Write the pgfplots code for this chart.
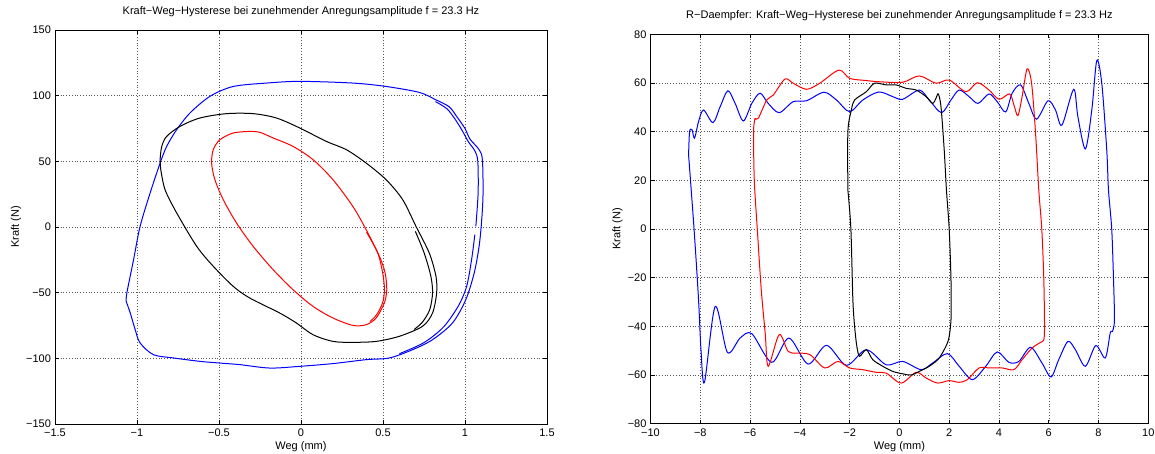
\documentclass[border=0pt]{standalone}
\usepackage{fontspec}
\setmainfont{Liberation Sans}
\usepackage{pgfplots}
\pgfplotsset{compat=1.18}

\pgfplotsset{
  mstyle/.style={
    scale only axis,
    anchor=south west,
    axis line style={line width=0.9pt},
    tick align=inside,
    major tick length=4pt,
    tick style={black, line width=0.6pt},
    grid=major,
    major grid style={black!65, line width=0.5pt, dash pattern=on 0.6pt off 2.2pt},
    tick label style={font=\fontsize{11}{13}\selectfont},
    xticklabel style={yshift=-1.2pt},
    yticklabel style={xshift=-0.5pt},
    label style={font=\fontsize{11}{13}\selectfont},
    title style={font=\fontsize{11}{13}\selectfont, at={(axis description cs:0.5,1)}, anchor=center, yshift=12.5pt},
    xlabel style={at={(axis description cs:0.5,0)}, anchor=center, yshift=-23pt},
    ylabel style={at={(axis description cs:0,0.5)}, anchor=center},
    every axis plot/.append style={line width=1pt, smooth, tension=0.5},
  }
}

\begin{document}
\begin{tikzpicture}
\useasboundingbox (0,0) rectangle (1155pt,453pt);

% links: Kraft-Weg-Hysterese
\begin{axis}[
  mstyle,
  at={(55pt,29pt)}, width=492pt, height=394pt,
  xmin=-1.5, xmax=1.5, ymin=-150, ymax=150,
  xtick={-1.5,-1,-0.5,0,0.5,1,1.5},
  xticklabels={−1.5,−1,−0.5,0,0.5,1,1.5},
  ytick={-150,-100,-50,0,50,100,150},
  yticklabels={−150,−100,−50,0,50,100,150},
  ylabel style={yshift=39pt},
  title={Kraft−Weg−Hysterese bei zunehmender Anregungsamplitude f = 23.3 Hz},
  xlabel={Weg (mm)}, ylabel={Kraft (N)},
]
\addplot[blue] coordinates {
(-1.066,-56.6) (-1.041,-65.5) (-1.011,-78.2) (-0.981,-88.3) (-0.9,-97.2)
(-0.778,-99.7) (-0.616,-102.3) (-0.494,-103.6) (-0.373,-104.8) (-0.19,-107.4)
(-0.008,-106.1) (0.195,-104) (0.397,-101) (0.539,-99.7) (0.681,-93.4)
(0.802,-85.8) (0.924,-73) (1.005,-55.3) (1.056,-35) (1.086,-14.7)
(1.102,5.6) (1.11,25.9) (1.106,51.3) (1.086,58.9) (1.03,67) (1.0,75)
(0.95,84) (0.904,91.5) (0.82,97) (0.721,102.5) (0.519,107) (0.316,109.6)
(-0.008,110.9) (-0.21,109.6) (-0.413,107) (-0.555,99.5) (-0.677,86.8)
(-0.758,74.1) (-0.819,61.4) (-0.859,48.7) (-0.92,25.9) (-0.981,0.5)
(-1.021,-24.9) (-1.062,-50.3) (-1.066,-56.6)
};
\addplot[blue] coordinates {
(0.6,-96.5) (0.75,-88) (0.87,-76) (0.96,-60) (1.01,-45.2) (1.04,-25) (1.06,-5.8)
};
\addplot[blue] coordinates {
(1.066,0.5) (1.08,25.9) (1.078,50) (1.06,58) (1.02,65) (0.985,73) (0.94,82) (0.89,90) (0.82,95.5)
};
\addplot[black] coordinates {
(-0.855,43.7) (-0.859,51.3) (-0.849,61.4) (-0.819,69) (-0.738,76.6)
(-0.616,83) (-0.454,86.3) (-0.292,86.3) (-0.15,83) (-0.008,75.4)
(0.154,65.2) (0.276,58.9) (0.397,48.7) (0.519,36) (0.62,20.8)
(0.701,0.5) (0.782,-19.8) (0.823,-37.6) (0.827,-50.3) (0.802,-65.5)
(0.741,-75.6) (0.6,-83.2) (0.458,-87.1) (0.316,-87.8) (0.195,-87.1)
(0.073,-82) (-0.028,-73.1) (-0.13,-65.5) (-0.312,-54.1) (-0.413,-45.2)
(-0.535,-29.9) (-0.636,-14.7) (-0.758,10.7) (-0.829,28.4) (-0.855,43.7)
};
\addplot[black] coordinates {
(0.697,-3.3) (0.751,-19.8) (0.792,-37.6) (0.802,-50.3) (0.785,-62.9) (0.74,-72.5) (0.69,-78)
};
\addplot[red] coordinates {
(-0.312,72.8) (-0.413,71.6) (-0.494,66.5) (-0.535,58.9) (-0.545,48.7)
(-0.525,36) (-0.474,20.8) (-0.393,3) (-0.292,-14.7) (-0.17,-32.5)
(-0.049,-47.7) (0.073,-60.4) (0.195,-69.3) (0.316,-74.9) (0.397,-74.4)
(0.458,-69.3) (0.508,-57.9) (0.523,-47.7) (0.513,-35) (0.478,-22.3)
(0.397,-2) (0.316,15.7) (0.195,36) (0.073,51.3) (-0.049,61.4)
(-0.17,67.8) (-0.251,72.1) (-0.312,72.8)
};
\addplot[red] coordinates {
(0.40,-4) (0.468,-19.8) (0.498,-35) (0.509,-47.7) (0.497,-57.9) (0.46,-67) (0.42,-72)
};
\end{axis}

% rechts: R-Daempfer
\begin{axis}[
  mstyle,
  at={(650.5pt,29.3pt)}, width=497.8pt, height=389.4pt,
  xmin=-10, xmax=10, ymin=-80, ymax=80,
  xtick={-10,-8,...,10},
  xticklabels={−10,−8,−6,−4,−2,0,2,4,6,8,10},
  ytick={-80,-60,...,80},
  yticklabels={−80,−60,−40,−20,0,20,40,60,80},
  ylabel style={yshift=33pt},
  title={R−Daempfer: Kraft−Weg−Hysterese bei zunehmender Anregungsamplitude f = 23.3 Hz},
  xlabel={Weg (mm)}, ylabel={Kraft (N)},
]
\addplot[blue] coordinates {
(-8.47,30.4) (-8.43,40) (-8.33,40.7) (-8.23,37.3) (-8.07,44.1) (-7.87,48.9)
(-7.49,43.7) (-7.2,50.3) (-6.89,56.8) (-6.6,51.6) (-6.27,44.4) (-5.93,51.6)
(-5.6,55.8) (-5.27,51.6) (-4.83,47.8) (-4.27,52.3) (-3.73,52.7) (-3.03,56.2)
(-2.53,53) (-2.0,48.2) (-1.47,53) (-0.83,56.3) (-0.27,54.4) (0.13,53.3)
(0.8,57.1) (1.2,53) (1.69,47.8) (2.07,53) (2.4,57.1) (2.8,54.4) (3.16,51.6)
(3.6,55.5) (3.93,52.3) (4.27,48.1) (4.53,55.8) (4.87,59.2) (5.2,51.6)
(5.51,45.1) (5.97,52.7) (6.27,48.9) (6.53,42.7) (7.0,57.4) (7.17,46.2)
(7.47,32.9) (7.73,48.9) (7.93,69.2) (8.13,59.9) (8.33,32.5) (8.4,16)
(8.53,0) (8.6,-20) (8.64,-37.3) (8.56,-42.1) (8.47,-42.7) (8.27,-53)
(7.89,-47.9) (7.47,-56.4) (7.07,-49.6) (6.77,-46.2) (6.4,-53.7) (6.09,-60.8)
(5.73,-55.1) (5.27,-48.6) (4.8,-54.4) (4.4,-54.8) (3.93,-50.5) (3.47,-56.4)
(2.93,-61.9) (2.4,-56.4) (1.93,-51.2) (1.33,-55.1) (0.87,-57.8) (0.13,-54.4)
(-0.53,-55.8) (-1.33,-49.6) (-2.13,-56) (-2.93,-47.8) (-3.67,-55.5)
(-4.44,-44.8) (-5.13,-54.8) (-5.93,-43) (-6.4,-44.8) (-6.91,-50.7)
(-7.4,-31.8) (-7.83,-62.9) (-7.97,-50) (-8.07,-29) (-8.25,0) (-8.47,30.4)
};
\addplot[red] coordinates {
(-5.8,45.5) (-5.67,45.5) (-5.33,53) (-5.07,55) (-4.6,61.6) (-4.27,59.9)
(-3.73,57.4) (-3.2,59.9) (-2.43,65.3) (-2.0,61.9) (-1.33,61) (-0.8,60.5)
(0.13,60.3) (0.8,62.9) (1.47,59.9) (2.0,61.2) (2.67,56.4) (3.13,60.1)
(3.6,57.1) (4.0,53.3) (4.43,55.5) (4.6,51) (4.76,46.6) (4.93,54.4)
(5.13,65.8) (5.31,59.9) (5.47,39.3) (5.6,16) (5.72,0) (5.8,-20) (5.83,-40)
(5.8,-45.5) (5.67,-46.6) (5.33,-48.9) (4.93,-53.7) (4.6,-57.8) (4.13,-57.1)
(3.6,-57.1) (3.2,-57.1) (2.73,-61.9) (2.4,-63) (2.0,-62.3) (1.53,-63.3)
(1.07,-61.2) (0.67,-58.9) (0.07,-63.3) (-0.53,-59.2) (-0.93,-58.9)
(-1.47,-57.8) (-2.0,-57.1) (-2.47,-54.4) (-3.0,-57.1) (-3.6,-51.6)
(-4.13,-51) (-4.47,-50.3) (-4.83,-43.4) (-5.27,-56.4) (-5.39,-43)
(-5.55,-25) (-5.71,0) (-5.83,20) (-5.86,40) (-5.8,45.5)
};
\addplot[black] coordinates {
(-2.07,16) (-2.07,40) (-1.93,48.9) (-1.8,53) (-1.33,56.4) (-1.0,59.9)
(-0.53,59.2) (-0.13,59.2) (0.27,57.8) (0.67,57.1) (1.07,54.4) (1.33,51.6)
(1.47,53.7) (1.56,55.5) (1.67,50.3) (1.8,32.5) (1.89,16) (2.0,0)
(2.07,-20) (2.08,-35) (2.03,-42) (1.93,-46.8) (1.6,-53) (1.2,-56.4)
(0.8,-58.5) (0.47,-60) (0.13,-59.5) (-0.27,-58.5) (-0.67,-56.4)
(-1.07,-53.7) (-1.33,-49.6) (-1.6,-52.3) (-1.71,-48.2) (-1.8,-40)
(-1.87,-29) (-1.95,0) (-2.07,16)
};
\end{axis}
\end{tikzpicture}
\end{document}
